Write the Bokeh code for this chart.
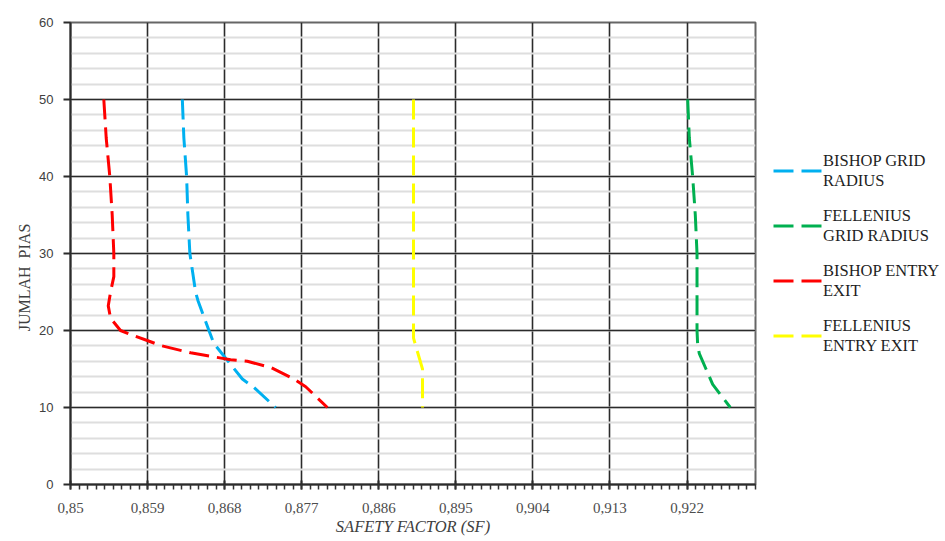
from bokeh.plotting import figure
from bokeh.models import FixedTicker, Legend, LegendItem, Range1d
from bokeh.embed import file_html
from bokeh.resources import INLINE

# ---- data -------------------------------------------------------------
x_ticks = [0.85, 0.859, 0.868, 0.877, 0.886, 0.895, 0.904, 0.913, 0.922]
x_tick_labels = ["0,85", "0,859", "0,868", "0,877", "0,886", "0,895", "0,904", "0,913", "0,922"]
y_ticks = [0, 10, 20, 30, 40, 50, 60]

bishop_grid_y = [50, 45, 40, 35, 30, 25, 23.9, 20, 18.3, 13.7, 12.6, 10]
bishop_grid_sf = [0.86306, 0.86324, 0.86356, 0.86371, 0.86394, 0.86461, 0.86488,
                  0.86617, 0.86675, 0.87007, 0.87142, 0.87396]

fellenius_grid_y = [50, 45, 40, 35, 30, 20, 18, 17, 15, 13, 10]
fellenius_grid_sf = [0.92208, 0.92227, 0.92266, 0.92297, 0.92317, 0.92317, 0.92325,
                     0.92344, 0.92422, 0.92500, 0.92706]

bishop_entry_y = [50, 45, 40, 35, 30, 27, 25, 23.2, 21.6, 20, 19.4, 18.7, 18.05, 17.1,
                  16.2, 16.0, 15.2, 13.7, 12.7, 10]
bishop_entry_sf = [0.85389, 0.85417, 0.85459, 0.85487, 0.85506, 0.85506, 0.85468, 0.85441,
                   0.85468, 0.85584, 0.85721, 0.85896, 0.86052, 0.86403, 0.86870, 0.87065,
                   0.87338, 0.87610, 0.87747, 0.88000]

fellenius_entry_y = [50, 40, 30, 20, 19, 15, 10]
fellenius_entry_sf = [0.89006, 0.89006, 0.89006, 0.89006, 0.89006, 0.89111, 0.89111]

series = [
    ("BISHOP GRID\nRADIUS", bishop_grid_sf, bishop_grid_y, "#00B0F0"),
    ("FELLENIUS\nGRID RADIUS", fellenius_grid_sf, fellenius_grid_y, "#00B050"),
    ("BISHOP ENTRY\nEXIT", bishop_entry_sf, bishop_entry_y, "#FF0000"),
    ("FELLENIUS\nENTRY EXIT", fellenius_entry_sf, fellenius_entry_y, "#FFFF00"),
]

# ---- figure -----------------------------------------------------------
p = figure(frame_width=685, frame_height=462, output_backend="svg", toolbar_location=None,
           x_range=Range1d(0.85, 0.93), y_range=Range1d(0, 60),
           min_border_left=70, min_border_right=0, min_border_top=22,
           min_border_bottom=57)
p.background_fill_color = "white"
p.border_fill_color = "white"
p.outline_line_color = "#666666"
p.outline_line_width = 2

# axes
p.xaxis.ticker = FixedTicker(ticks=x_ticks,
                             minor_ticks=[round(0.85 + 0.001 * i, 3) for i in range(81)])
p.xaxis.major_label_overrides = dict(zip(x_ticks, x_tick_labels))
p.yaxis.ticker = FixedTicker(ticks=y_ticks, minor_ticks=list(range(0, 61, 2)))

p.xaxis.axis_line_color = "#2b2b2b"
p.xaxis.axis_line_width = 2
p.xaxis.major_tick_in = 4
p.xaxis.major_tick_out = 5
p.xaxis.major_tick_line_color = "#2b2b2b"
p.xaxis.major_tick_line_width = 2
p.xaxis.minor_tick_in = 0
p.xaxis.minor_tick_out = 5
p.xaxis.minor_tick_line_color = "#333333"
p.xaxis.minor_tick_line_width = 1.5
p.xaxis.major_label_standoff = 13
p.xaxis.major_label_text_font = "Liberation Serif"
p.xaxis.major_label_text_font_size = "15px"
p.xaxis.major_label_text_color = "#4d4d4d"
p.xaxis.axis_label = "SAFETY FACTOR (SF)"
p.xaxis.axis_label_text_font = "Liberation Serif"
p.xaxis.axis_label_text_font_style = "italic"
p.xaxis.axis_label_text_font_size = "16.5px"
p.xaxis.axis_label_text_color = "#404040"
p.xaxis.axis_label_standoff = 1

p.yaxis.axis_line_color = "#2b2b2b"
p.yaxis.axis_line_width = 2
p.yaxis.major_tick_in = 0
p.yaxis.major_tick_out = 7
p.yaxis.major_tick_line_color = "#2b2b2b"
p.yaxis.major_tick_line_width = 2
p.yaxis.minor_tick_in = 0
p.yaxis.minor_tick_out = 0
p.yaxis.major_label_standoff = 10
p.yaxis.major_label_text_font = "Liberation Sans"
p.yaxis.major_label_text_font_size = "13px"
p.yaxis.major_label_text_color = "#404040"
p.yaxis.axis_label = "JUMLAH\u00a0\u00a0PIAS" + "\u00a0" * 12
p.yaxis.axis_label_text_font = "Liberation Serif"
p.yaxis.axis_label_text_font_style = "normal"
p.yaxis.axis_label_text_font_size = "16px"
p.yaxis.axis_label_text_color = "#404040"
p.yaxis.axis_label_standoff = 3

# grids
p.xgrid.grid_line_color = "#2b2b2b"
p.xgrid.grid_line_width = 1.6
p.xgrid.minor_grid_line_color = None
p.ygrid.grid_line_color = "#2b2b2b"
p.ygrid.grid_line_width = 1.6
p.ygrid.minor_grid_line_color = "#dedede"
p.ygrid.minor_grid_line_width = 2

# lines
items = []
for label, xs, ys, color in series:
    r = p.line(xs, ys, line_color=color, line_width=3, line_dash="20 8")
    items.append(LegendItem(label=label, renderers=[r]))

legend = Legend(items=items, location="center_left", border_line_color=None,
                background_fill_alpha=0, padding=0, margin=18, spacing=15,
                glyph_width=50, glyph_height=20, label_standoff=-2,
                label_text_font="Liberation Serif", label_text_font_size="16.5px",
                label_text_color="#1f1f1f")
p.add_layout(legend, "right")

open("out.html", "w").write(file_html(p, INLINE))
